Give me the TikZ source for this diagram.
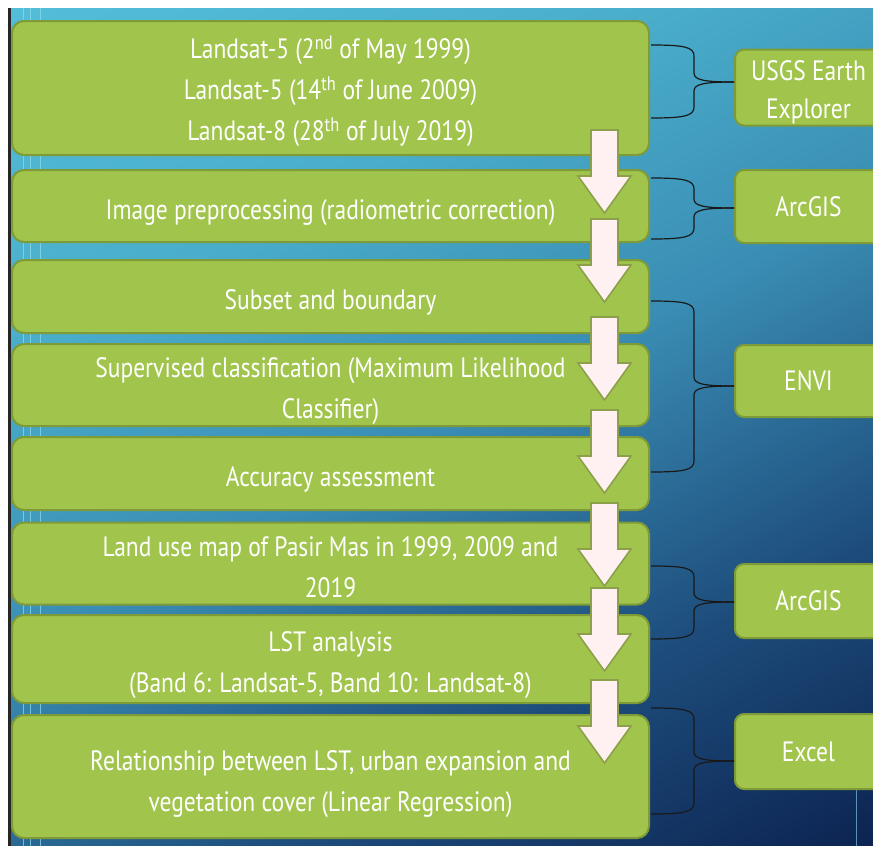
\documentclass[tikz,border=0pt]{standalone}
\usepackage{fontspec}
\setmainfont[FakeStretch=0.84]{PT Sans}
\usetikzlibrary{calc,shadings}
\definecolor{boxfill}{HTML}{A1C54C}
\definecolor{boxline}{HTML}{7F9B38}
\definecolor{arrfill}{HTML}{FFF1F2}
\definecolor{arrline}{HTML}{8CA04A}
\definecolor{deco}{HTML}{8EDDF0}
\definecolor{bgA}{HTML}{0A1E4C}
\definecolor{bgB}{HTML}{1D4C7B}
\definecolor{bgC}{HTML}{3A8DB4}
\definecolor{bgD}{HTML}{4AAECB}
\definecolor{bgE}{HTML}{5BCCE3}
\pgfdeclareverticalshading{bgshade}{100bp}{%
  color(0bp)=(bgA);
  color(14bp)=(bgA);
  color(32bp)=(bgB);
  color(50bp)=(bgC);
  color(66bp)=(bgD);
  color(100bp)=(bgE)}
\newcommand\blkarrowat[2]{%
  \path[blkarrow] (#1-13.5,#2) -- (#1+13.5,#2) -- (#1+13.5,#2+46) -- (#1+26.5,#2+46)
    -- (#1,#2+83) -- (#1-26.5,#2+46) -- (#1-13.5,#2+46) -- cycle;}
\newcommand\tx[2][-5pt]{\raisebox{#1}[\height][\depth]{\begin{tabular}{@{}c@{}}#2\end{tabular}}}
\begin{document}
\begin{tikzpicture}[x=1pt,y=-1pt,
  flowbox/.style={draw=boxline, line width=2pt, fill=boxfill, rounded corners=12pt,
    minimum width=637pt, text=white, inner sep=0pt,
    font=\fontsize{28}{41}\selectfont},
  toolbox/.style={draw=boxline, line width=2pt, fill=boxfill, rounded corners=9pt,
    minimum width=147pt, text=white, inner sep=0pt,
    font=\fontsize{28}{38}\selectfont},
  bracestyle/.style={draw=black!90, line width=1.2pt},
  blkarrow/.style={fill=arrfill, draw=arrline, line width=1.6pt, line join=miter}
]
\useasboundingbox (0,0) rectangle (873,846);
\clip (0,0) rectangle (873,846);
\fill[white] (0,0) rectangle (873,846);
\shade[shading=bgshade, shading angle=28] (11,8) rectangle (873,846);
\fill[black!85] (8,8) rectangle (11,846);
% faint decorative lines
\draw[deco, line width=1pt, opacity=0.7] (23,8) -- (23,846);
\draw[deco, line width=1pt, opacity=0.7] (30,8) -- (30,846);
\draw[deco, line width=1pt, opacity=0.7] (40,8) -- (40,846);
\draw[deco, line width=1pt, opacity=0.6] (856,789) -- (856,846);

% left boxes
\node[flowbox, minimum height=134pt] (b1) at (330.5,88)
  {\tx[-3pt]{Landsat-5 (2\textsuperscript{nd} of May 1999)\\Landsat-5 (14\textsuperscript{th} of June 2009)\\Landsat-8 (28\textsuperscript{th} of July 2019)}};
\node[flowbox, minimum height=72pt] (b2) at (330.5,206) {\tx{Image preprocessing (radiometric correction)}};
\node[flowbox, minimum height=73pt] (b3) at (330.5,296.5) {\tx{Subset and boundary}};
\node[flowbox, minimum height=74pt] (b4) at (330.5,385) {\tx{Supervised classification (Maximum Likelihood\\Classifier)}};
\node[flowbox, minimum height=73pt] (b5) at (330.5,473.5) {\tx{Accuracy assessment}};
\node[flowbox, minimum height=73pt] (b6) at (330.5,563.5) {\tx{Land use map of Pasir Mas in 1999, 2009 and\\2019}};
\node[flowbox, minimum height=88pt] (b7) at (330.5,659) {\tx{LST analysis\\(Band 6: Landsat-5, Band 10: Landsat-8)}};
\node[flowbox, minimum height=123pt] (b8) at (330.5,776.5) {\tx[-6pt]{Relationship between LST, urban expansion and\\vegetation cover (Linear Regression)}};

% right boxes
\node[toolbox, minimum height=75pt] (r1) at (808.5,87.5) {\tx[-4pt]{USGS Earth\\Explorer}};
\node[toolbox, minimum height=73pt] (r2) at (808.5,206.5) {\tx[-2pt]{ArcGIS}};
\node[toolbox, minimum height=72pt] (r3) at (808.5,381) {\tx[-2pt]{ENVI}};
\node[toolbox, minimum height=74pt] (r4) at (808.5,601) {\tx[-2pt]{ArcGIS}};
\node[toolbox, minimum height=75pt] (r5) at (808.5,751.5) {\tx[-2pt]{Excel}};

% braces
\foreach \t/\m/\b/\r in {45/82/118/r1, 178/208/239/r2, 301/386/472/r3, 566/602/639/r4, 708/761/814/r5}{
  \coordinate (bt) at (651,\t);
  \coordinate (bb) at (651,\b);
  \coordinate (bm) at (694,\m);
  \draw[bracestyle] (bt) .. controls (684,\t) and (694,\t+2) .. (694,\t+11)
     -- (694,\m-9) .. controls (694,\m-2) and (704,\m) .. (bm -| \r.west);
  \draw[bracestyle] (bb) .. controls (684,\b) and (694,\b-2) .. (694,\b-11)
     -- (694,\m+9) .. controls (694,\m+2) and (704,\m) .. (bm -| \r.west);
}

% block arrows
\blkarrowat{604.5}{130}
\blkarrowat{604.5}{219}
\blkarrowat{604.5}{317}
\blkarrowat{604.5}{410}
\blkarrowat{604.5}{503}
\blkarrowat{604.5}{588}
\blkarrowat{604.5}{680}
\end{tikzpicture}
\end{document}
